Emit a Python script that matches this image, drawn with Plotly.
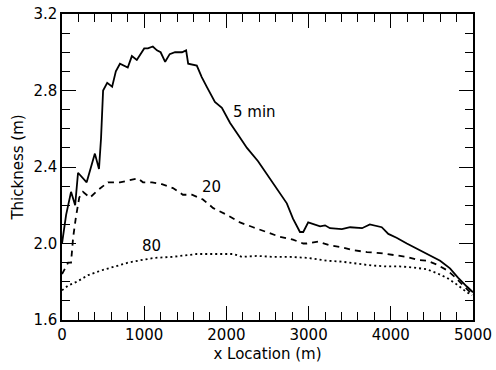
import plotly.graph_objects as go

x5 = [0, 50, 110, 160, 195, 300, 400, 450, 475, 500, 550, 610, 655, 705, 800, 850, 910, 1000, 1045, 1105,
      1155, 1200, 1255, 1310, 1375, 1460, 1510, 1535, 1640, 1700, 1760, 1860, 1945, 2045, 2140, 2250,
      2385, 2495, 2615, 2735, 2810, 2895, 2935, 2995, 3140, 3200, 3260, 3405, 3505, 3650, 3745, 3890,
      3970, 4070, 4195, 4355, 4475, 4600, 4720, 4820, 4925, 5000]
y5 = [2.00, 2.15, 2.27, 2.20, 2.37, 2.32, 2.47, 2.39, 2.55, 2.80, 2.84, 2.82, 2.90, 2.94, 2.92, 2.98, 2.96, 3.02, 3.02, 3.03,
      3.01, 3.00, 2.95, 2.99, 3.00, 3.00, 3.01, 2.94, 2.93, 2.87, 2.82, 2.74, 2.71, 2.63, 2.57, 2.50,
      2.43, 2.36, 2.29, 2.21, 2.13, 2.06, 2.06, 2.11, 2.09, 2.095, 2.08, 2.075, 2.085, 2.08, 2.10, 2.085,
      2.05, 2.03, 2.00, 1.965, 1.94, 1.91, 1.87, 1.82, 1.775, 1.745]

x20 = [0, 75, 110, 135, 170, 210, 255, 340, 440, 560, 705, 825, 925, 985, 1095, 1215, 1350, 1470, 1580,
       1715, 1840, 2005, 2165, 2325, 2495, 2650, 2810, 2935, 2980, 3115, 3260, 3405, 3540, 3710, 3870,
       4030, 4195, 4320, 4440, 4560, 4685, 4780, 4880, 4965, 5000]
y20 = [1.84, 1.90, 1.90, 2.03, 2.14, 2.24, 2.27, 2.24, 2.28, 2.32, 2.32, 2.33, 2.34, 2.32, 2.32, 2.31, 2.29, 2.255, 2.255,
       2.23, 2.185, 2.15, 2.11, 2.085, 2.06, 2.035, 2.02, 2.00, 2.00, 2.01, 1.99, 1.98, 1.965, 1.955, 1.95,
       1.94, 1.93, 1.915, 1.91, 1.89, 1.86, 1.825, 1.78, 1.745, 1.73]

x80 = [0, 75, 180, 320, 485, 645, 805, 985, 1130, 1340, 1470, 1640, 1840, 2085, 2190, 2370, 2570, 2775,
       2980, 3055, 3225, 3405, 3590, 3770, 3950, 4110, 4270, 4440, 4560, 4685, 4805, 4925, 4990]
y80 = [1.755, 1.78, 1.80, 1.835, 1.86, 1.88, 1.90, 1.915, 1.925, 1.93, 1.935, 1.945, 1.945, 1.945, 1.93, 1.935, 1.93, 1.93,
       1.925, 1.92, 1.91, 1.905, 1.895, 1.885, 1.88, 1.88, 1.875, 1.865, 1.845, 1.82, 1.785, 1.745, 1.73]

labels = ["5 min", "20", "80"]
label_x = [2068, 1687, 961]
label_y = [2.69, 2.293, 1.985]

FONT = "DejaVu Sans"
FS = 15

fig = go.Figure()
fig.add_trace(go.Scatter(x=x5, y=y5, mode="lines", line=dict(color="black", width=1.8)))
fig.add_trace(go.Scatter(x=x20, y=y20, mode="lines", line=dict(color="black", width=1.8, dash="6px,5px")))
fig.add_trace(go.Scatter(x=x80, y=y80, mode="lines", line=dict(color="black", width=1.8, dash="2px,3px")))

for t, lx, ly in zip(labels, label_x, label_y):
    fig.add_annotation(x=lx, y=ly, text=t, showarrow=False, xanchor="left", yanchor="middle",
                       xshift=-1, font=dict(size=FS, color="black", family=FONT))

fig.update_layout(
    width=496, height=370, margin=dict(l=62, r=23, t=14, b=50, autoexpand=False),
    plot_bgcolor="white", paper_bgcolor="white", showlegend=False,
    font=dict(family=FONT, color="black", size=FS),
    xaxis=dict(range=[0, 5000], dtick=1000, tick0=0,
               showline=True, linecolor="black", linewidth=1.5, mirror="ticks",
               ticks="inside", ticklen=14, tickwidth=1.2, tickcolor="black",
               showgrid=False, zeroline=False,
               tickfont=dict(size=FS, color="black", family=FONT),
               title=dict(text="x Location (m)", font=dict(size=FS, color="black", family=FONT), standoff=6),
               minor=dict(dtick=200, ticks="inside", ticklen=8, tickcolor="black", tickwidth=1.2)),
    yaxis=dict(range=[1.6, 3.2], dtick=0.4, tick0=1.6, tickformat=".1f",
               showline=True, linecolor="black", linewidth=1.5, mirror="ticks",
               ticks="inside", ticklen=14, tickwidth=1.2, tickcolor="black",
               showgrid=False, zeroline=False,
               tickfont=dict(size=FS, color="black", family=FONT),
               title=dict(text="Thickness (m)", font=dict(size=FS, color="black", family=FONT), standoff=6),
               minor=dict(dtick=0.1, ticks="inside", ticklen=8, tickcolor="black", tickwidth=1.2)),
)

fig.write_html("out.html", config={"displayModeBar": False},
               post_script="document.body.style.margin='0';")
